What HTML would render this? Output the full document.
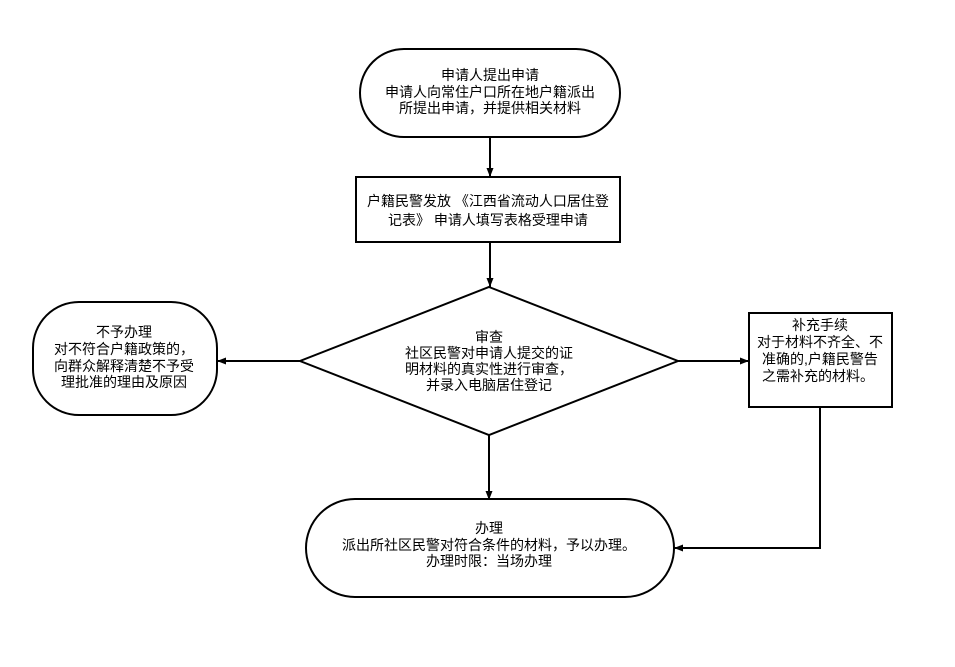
<!DOCTYPE html>
<html>
<head>
<meta charset="utf-8">
<style>
  html, body { margin: 0; padding: 0; background: #ffffff; }
  body { width: 955px; height: 667px; overflow: hidden; }
  svg { display: block; }
  text { font-family: "Liberation Sans", "Noto Sans CJK SC", "WenQuanYi Zen Hei", sans-serif; font-size: 14px; fill: #000; text-anchor: middle; }
</style>
</head>
<body>
<svg width="955" height="667" viewBox="0 0 955 667" xmlns="http://www.w3.org/2000/svg">
  <defs>
    <marker id="ah" markerUnits="userSpaceOnUse" markerWidth="10" markerHeight="8" refX="9" refY="4" orient="auto">
      <path d="M0,0.5 L9,4 L0,7.5 z" fill="#000"/>
    </marker>
  </defs>
  <rect x="0" y="0" width="955" height="667" fill="#fff"/>

  <!-- Top terminal -->
  <rect x="360" y="49" width="260" height="88" rx="44" ry="44" fill="#fff" stroke="#000" stroke-width="2"/>
  <text x="490" y="80">申请人提出申请</text>
  <text x="490" y="97">申请人向常住户口所在地户籍派出</text>
  <text x="490" y="113">所提出申请，并提供相关材料</text>

  <!-- arrow to rect -->
  <line x1="490" y1="137" x2="490" y2="177" stroke="#000" stroke-width="2" marker-end="url(#ah)"/>

  <!-- Process rect -->
  <rect x="356" y="177" width="264" height="65" fill="#fff" stroke="#000" stroke-width="2"/>
  <text x="488" y="206">户籍民警发放 《江西省流动人口居住登</text>
  <text x="488" y="225">记表》 申请人填写表格受理申请</text>

  <!-- line to diamond -->
  <line x1="490" y1="242" x2="490" y2="287" stroke="#000" stroke-width="2" marker-end="url(#ah)"/>

  <!-- Diamond -->
  <polygon points="489,287 678,361 489,435 300,361" fill="#fff" stroke="#000" stroke-width="2"/>
  <text x="489" y="342">审查</text>
  <text x="489" y="358">社区民警对申请人提交的证</text>
  <text x="489" y="374">明材料的真实性进行审查，</text>
  <text x="489" y="390">并录入电脑居住登记</text>

  <!-- Left arrow -->
  <line x1="300" y1="361" x2="217" y2="361" stroke="#000" stroke-width="2" marker-end="url(#ah)"/>

  <!-- Left terminal -->
  <rect x="33" y="302" width="184" height="113" rx="46" ry="46" fill="#fff" stroke="#000" stroke-width="2"/>
  <text x="124" y="337">不予办理</text>
  <text x="124" y="354">对不符合户籍政策的，</text>
  <text x="124" y="371">向群众解释清楚不予受</text>
  <text x="124" y="387">理批准的理由及原因</text>

  <!-- Right arrow -->
  <line x1="678" y1="361" x2="749" y2="361" stroke="#000" stroke-width="2" marker-end="url(#ah)"/>

  <!-- Right box -->
  <rect x="749" y="313" width="143" height="94" fill="#fff" stroke="#000" stroke-width="2"/>
  <text x="820" y="330">补充手续</text>
  <text x="820" y="347">对于材料不齐全、不</text>
  <text x="820" y="364">准确的,户籍民警告</text>
  <text x="818" y="381">之需补充的材料。</text>

  <!-- Right box to bottom terminal -->
  <polyline points="820,407 820,548 674,548" fill="none" stroke="#000" stroke-width="2" marker-end="url(#ah)"/>

  <!-- Diamond to bottom terminal -->
  <line x1="489" y1="435" x2="489" y2="500" stroke="#000" stroke-width="2" marker-end="url(#ah)"/>

  <!-- Bottom terminal -->
  <rect x="306" y="499" width="368" height="98" rx="49" ry="49" fill="#fff" stroke="#000" stroke-width="2"/>
  <text x="489" y="533">办理</text>
  <text x="489" y="550">派出所社区民警对符合条件的材料，予以办理。</text>
  <text x="489" y="566">办理时限：当场办理</text>
</svg>
</body>
</html>
